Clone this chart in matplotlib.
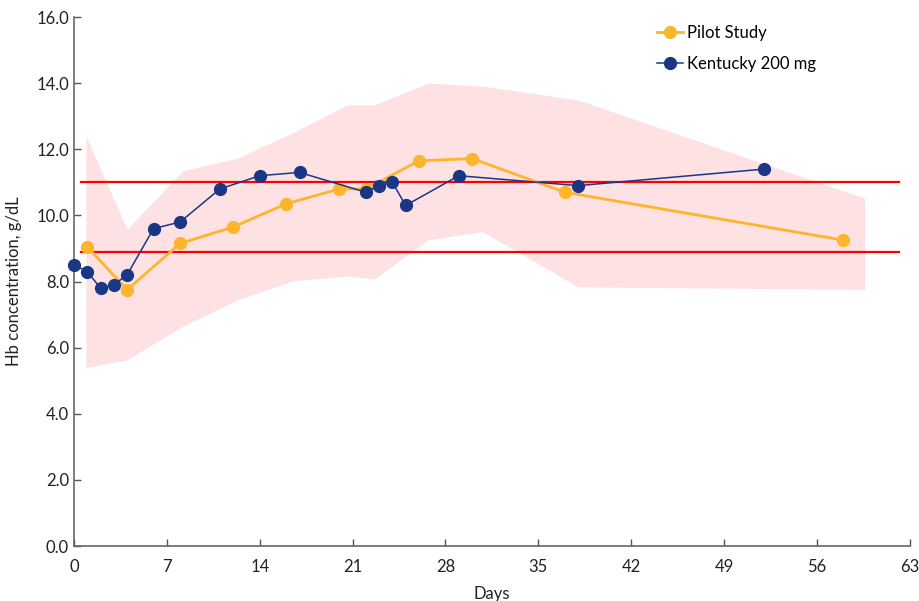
import matplotlib
matplotlib.use("Agg")
import matplotlib.pyplot as plt

plt.rcParams['font.family'] = ['Lato', 'DejaVu Sans']

# Kentucky 200 mg
ky_days = [0, 1, 2, 3, 4, 6, 8, 11, 14, 17, 22, 23, 24, 25, 29, 38, 52]
ky_hb = [8.5, 8.3, 7.8, 7.9, 8.2, 9.6, 9.8, 10.8, 11.2, 11.3, 10.7, 10.9, 11.0, 10.3, 11.2, 10.9, 11.4]

# Pilot study
pilot_days = [1, 4, 8, 12, 16, 20, 22, 26, 30, 37, 58]
pilot_hb = [9.05, 7.75, 9.15, 9.65, 10.35, 10.8, 10.8, 11.65, 11.72, 10.7, 9.25]

# shaded range
band_days = [0.9, 4, 8.2, 12.3, 16.5, 20.6, 22.6, 26.7, 30.8, 38, 59.6]
band_hi = [12.4, 9.58, 11.35, 11.73, 12.5, 13.34, 13.34, 14.0, 13.91, 13.49, 10.52]
band_lo = [5.40, 5.63, 6.65, 7.44, 8.02, 8.17, 8.07, 9.26, 9.51, 7.84, 7.76]

# target range lines
ref_levels = [11.0, 8.9]
ref_span = [0.5, 62.2]

fig = plt.figure(figsize=(9.19, 6.01), dpi=100)
ax = fig.add_axes([0.0805, 0.0915, 0.9095, 0.8802])

ax.fill_between(band_days, band_lo, band_hi, color='#fde1e3', lw=0, zorder=1)

for lvl in ref_levels:
    ax.plot(ref_span, [lvl, lvl], color='#ff0000', lw=1.6, zorder=2)

ax.plot(pilot_days, pilot_hb, color='#fdb52b', lw=2.0, marker='o', ms=8.5,
        label='Pilot Study', zorder=3, clip_on=False)
ax.plot(ky_days, ky_hb, color='#1a3786', lw=1.1, marker='o', ms=8.5,
        mfc='#1a3786', mec='#1a3786', label='Kentucky 200 mg', zorder=4, clip_on=False)

ax.set_xlim(0, 63)
ax.set_ylim(0, 16)
ax.set_xticks(range(0, 64, 7))
ax.set_yticks(range(0, 17, 2))
ax.set_yticklabels([f'{v:.1f}' for v in range(0, 17, 2)])
ax.tick_params(direction='in', length=5, width=1, colors='#555555', labelcolor='#222222',
               labelsize=12)
ax.tick_params(axis='x', pad=9)
for s in ['top', 'right']:
    ax.spines[s].set_visible(False)
for s in ['left', 'bottom']:
    ax.spines[s].set_color('#666666')
    ax.spines[s].set_linewidth(1.2)

ax.set_xlabel('Days', fontsize=12, color='#222222', labelpad=8)
ax.set_ylabel('Hb concentration, g/dL', fontsize=12, color='#222222', labelpad=10)

ax.legend(loc='upper left', bbox_to_anchor=(0.679, 1.014), frameon=False, fontsize=12,
          handlelength=1.6, handletextpad=0.2, labelspacing=0.9)

fig.savefig('out.png', dpi=100)
